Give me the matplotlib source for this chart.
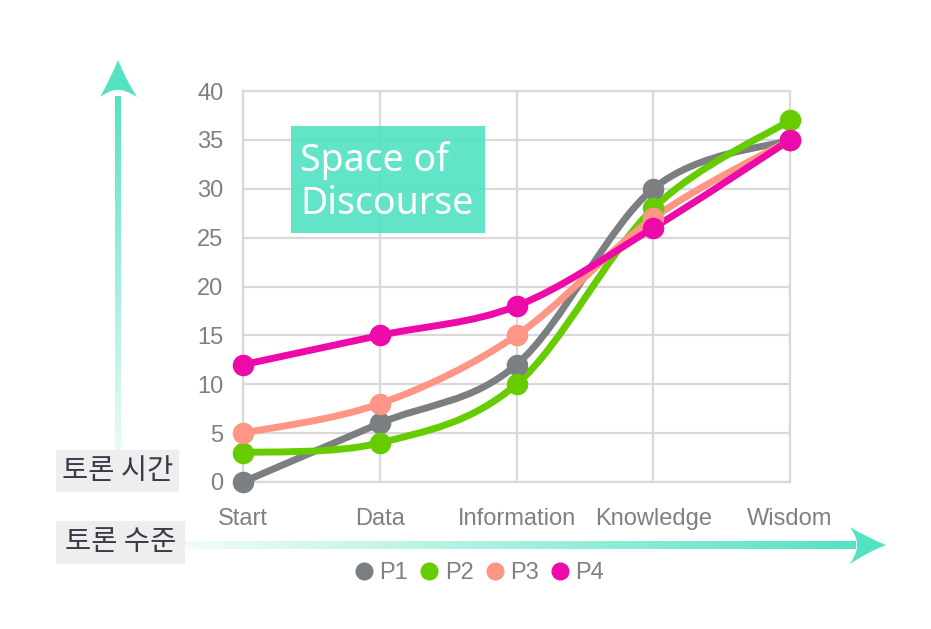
import numpy as np
import matplotlib
matplotlib.use("Agg")
import matplotlib.pyplot as plt
from matplotlib.path import Path
from matplotlib.patches import PathPatch, Rectangle
from matplotlib.lines import Line2D

# data
categories = ["Start", "Data", "Information", "Knowledge", "Wisdom"]
series_names = ["P1", "P2", "P3", "P4"]
p1 = [0, 6, 12, 30, 35]
p2 = [3, 4, 10, 28, 37]
p3 = [5, 8, 15, 27, 35]
p4 = [12, 15, 18, 26, 35]
colors = ["#7b7f81", "#66cc00", "#ff9584", "#ee0aa8"]
yticks = [0, 5, 10, 15, 20, 25, 30, 35, 40]

teal = "#55e2c3"
grid_col = "#d9d9d9"
label_col = "#808080"

plt.rcParams["font.family"] = ["Liberation Sans", "DejaVu Sans"]

W, H = 931, 629
fig = plt.figure(figsize=(W / 100, H / 100), dpi=100)


def smooth_path(xs, ys):
    # excel-like smoothed line: catmull-rom turned into cubic bezier pieces
    pts = np.column_stack([xs, ys]).astype(float)
    n = len(pts)
    verts = [pts[0]]
    codes = [Path.MOVETO]
    for i in range(n - 1):
        p0 = pts[max(i - 1, 0)]
        p1_ = pts[i]
        p2_ = pts[i + 1]
        p3_ = pts[min(i + 2, n - 1)]
        c1 = p1_ + (p2_ - p0) / 6.0
        c2 = p2_ - (p3_ - p1_) / 6.0
        verts += [c1, c2, p2_]
        codes += [Path.CURVE4] * 3
    return Path(verts, codes)


# main chart
ax = fig.add_axes([243 / W, 1 - 482 / H, (790 - 243) / W, (482 - 91) / H])
x = np.arange(len(categories))
ax.set_xlim(0, len(categories) - 1)
ax.set_ylim(0, 40)
ax.set_xticks(x)
ax.set_xticklabels(categories)
ax.set_yticks(yticks)
ax.grid(True, color=grid_col, linewidth=1.6)
ax.set_axisbelow(True)
for s in ax.spines.values():
    s.set_color(grid_col)
    s.set_linewidth(1.6)
ax.tick_params(length=0, labelsize=17, labelcolor=label_col)
ax.tick_params(axis="y", pad=14)
ax.tick_params(axis="x", pad=18.5)

for vals, c in zip([p1, p2, p3, p4], colors):
    ax.add_patch(PathPatch(smooth_path(x, vals), fill=False, edgecolor=c,
                           linewidth=5, capstyle="round", zorder=3))
    ax.plot(x, vals, linestyle="none", marker="o", markersize=14.5,
            color=c, zorder=4, clip_on=False)

handles = [Line2D([], [], linestyle="none", marker="o", markersize=12, color=c)
           for c in colors]
fig.legend(handles, series_names, loc="center", bbox_to_anchor=(477 / W, 1 - 573 / H),
           ncol=4, frameon=False, fontsize=17, labelcolor=label_col,
           handletextpad=0.05, columnspacing=0.3, handlelength=1.2)

# overlay in pixel coordinates for arrows and boxes
ov = fig.add_axes([0, 0, 1, 1], zorder=5)
ov.set_xlim(0, W)
ov.set_ylim(H, 0)
ov.axis("off")
ov.patch.set_alpha(0)

rgb = np.array(matplotlib.colors.to_rgb(teal))

# vertical arrow shaft, fading downwards
n = 200
grad = np.zeros((n, 1, 4))
grad[:, 0, :3] = rgb
grad[:, 0, 3] = np.linspace(1.0, 0.08, n)
ov.imshow(grad, extent=(115, 121, 470, 96), aspect="auto", interpolation="bilinear")

# horizontal arrow shaft, fading to the left
grad2 = np.zeros((1, n, 4))
grad2[0, :, :3] = rgb
grad2[0, :, 3] = np.linspace(0.08, 1.0, n)
ov.imshow(grad2, extent=(180, 856, 549, 541), aspect="auto", interpolation="bilinear")

# arrow heads with concave backs
up_head = Path([(118, 60), (126, 80), (137, 97), (124, 89), (118, 90),
                (112, 89), (100, 97), (110, 80), (118, 60)],
               [Path.MOVETO, Path.CURVE3, Path.CURVE3, Path.CURVE3, Path.CURVE3,
                Path.CURVE3, Path.CURVE3, Path.CURVE3, Path.CURVE3])
ov.add_patch(PathPatch(up_head, facecolor=teal, edgecolor="none"))
right_head = Path([(886, 545), (866, 553), (850, 564), (858, 551), (857, 545),
                   (858, 539), (850, 527), (866, 537), (886, 545)],
                  [Path.MOVETO, Path.CURVE3, Path.CURVE3, Path.CURVE3, Path.CURVE3,
                   Path.CURVE3, Path.CURVE3, Path.CURVE3, Path.CURVE3])
ov.add_patch(PathPatch(right_head, facecolor=teal, edgecolor="none"))

# korean labels
kfont = ["Noto Sans CJK KR", "DejaVu Sans"]
ov.add_patch(Rectangle((56, 450), 123, 42, facecolor="#eeeeee", edgecolor="none"))
ov.text(117.5, 471, "토론 시간", ha="center", va="center", fontsize=20.5,
        color="#3a3a4a", family=kfont)
ov.add_patch(Rectangle((56, 521), 129, 43, facecolor="#eeeeee", edgecolor="none"))
ov.text(120.5, 542.5, "토론 수준", ha="center", va="center", fontsize=20.5,
        color="#3a3a4a", family=kfont)

# space of discourse box
ov.add_patch(Rectangle((291, 126), 194, 107, facecolor=teal, edgecolor="none", alpha=0.93))
ov.text(300, 182, "Space of\nDiscourse", ha="left", va="center", fontsize=27,
        color="white", family=["Noto Sans", "DejaVu Sans"], linespacing=1.2)

fig.savefig("out.png", dpi=100)
